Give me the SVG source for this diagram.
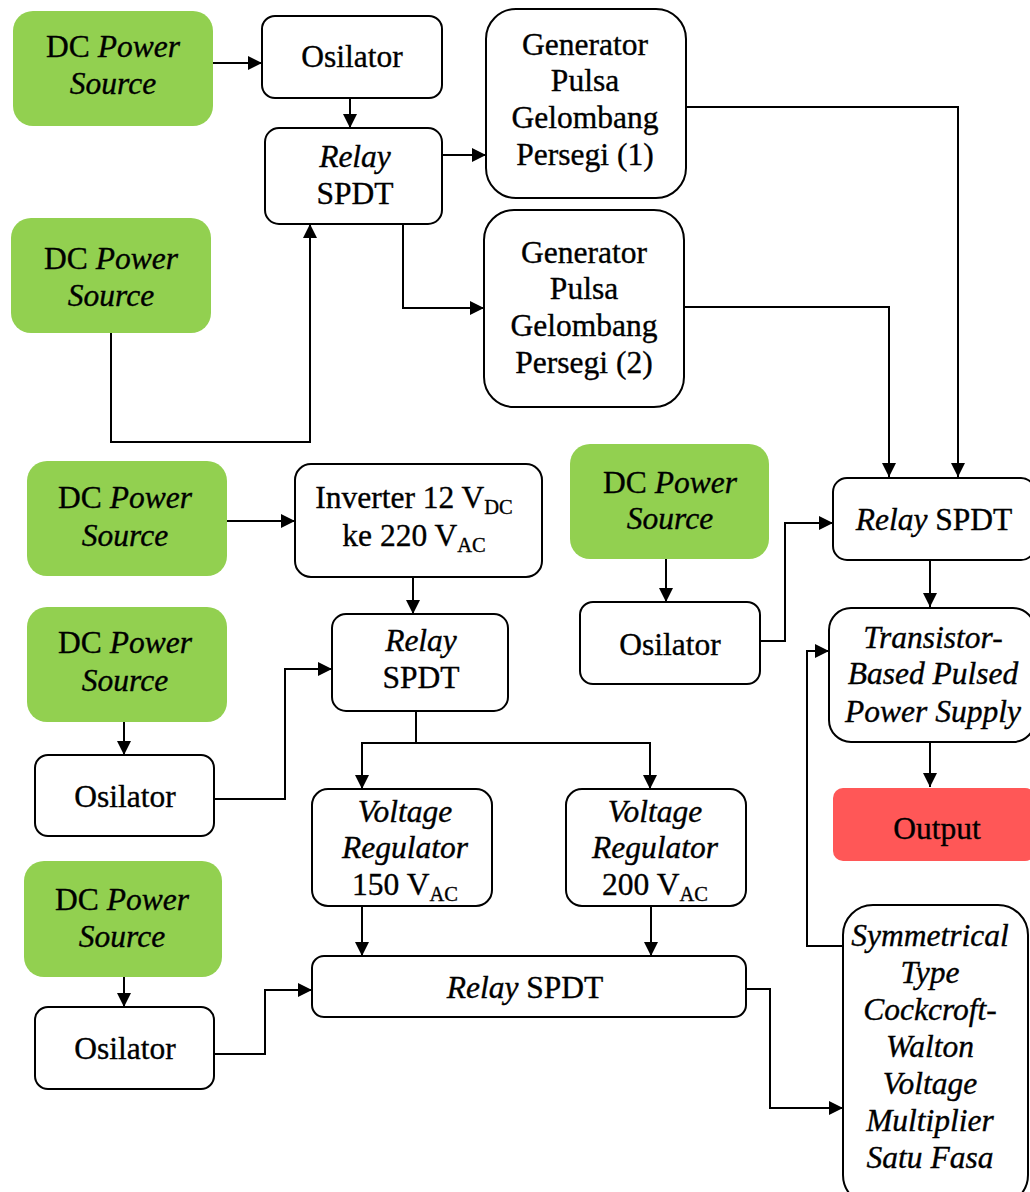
<svg xmlns="http://www.w3.org/2000/svg" width="1030" height="1192" viewBox="0 0 1030 1192" font-family="'Liberation Serif', serif">
<defs>
<style>
.box{fill:#fff;stroke:#000;stroke-width:2}
.src{fill:#92D050;stroke:none}
.out{fill:#FF5757;stroke:none}
.t{font-family:'Liberation Serif', serif;font-size:31.5px;fill:#000;stroke:#000;stroke-width:0.35;text-anchor:middle}
.i{font-style:italic}
.sub{font-size:20.5px}
.c{fill:none;stroke:#000;stroke-width:2}
</style>
<marker id="ah" markerWidth="14" markerHeight="14" refX="14" refY="7" orient="auto" markerUnits="userSpaceOnUse"><path d="M0,0 L14,7 L0,14 z" fill="#000"/></marker>
</defs>
<rect width="1030" height="1192" fill="#fff"/>
<g id="connectors">
<path class="c" marker-end="url(#ah)" d="M212,63 H262"/>
<path class="c" marker-end="url(#ah)" d="M350,98 V128"/>
<path class="c" marker-end="url(#ah)" d="M442,155 H486"/>
<path class="c" marker-end="url(#ah)" d="M111,333 V442 H310 V224"/>
<path class="c" marker-end="url(#ah)" d="M403,224 V308 H484"/>
<path class="c" marker-end="url(#ah)" d="M686,107 H958 V477"/>
<path class="c" marker-end="url(#ah)" d="M684,307 H889 V477"/>
<path class="c" marker-end="url(#ah)" d="M227,521 H295"/>
<path class="c" marker-end="url(#ah)" d="M413,577 V614"/>
<path class="c" marker-end="url(#ah)" d="M214,799 H285 V669 H332"/>
<path class="c" marker-end="url(#ah)" d="M124,722 V755"/>
<path class="c" marker-end="url(#ah)" d="M416,711 V743 H362 V789"/>
<path class="c" marker-end="url(#ah)" d="M416,743 H650 V789"/>
<path class="c" marker-end="url(#ah)" d="M666,559 V602"/>
<path class="c" marker-end="url(#ah)" d="M760,641 H785 V523 H833"/>
<path class="c" marker-end="url(#ah)" d="M930,560 V607"/>
<path class="c" marker-end="url(#ah)" d="M930,742 V787"/>
<path class="c" marker-end="url(#ah)" d="M843,946 H807 V651 H829"/>
<path class="c" marker-end="url(#ah)" d="M746,989 H770 V1108 H843"/>
<path class="c" marker-end="url(#ah)" d="M214,1054 H265 V990 H312"/>
<path class="c" marker-end="url(#ah)" d="M124,977 V1007"/>
<path class="c" marker-end="url(#ah)" d="M362,906 V956"/>
<path class="c" marker-end="url(#ah)" d="M651,906 V956"/>
</g>
<g id="dc1"><rect class="src" x="13" y="11" width="200" height="115" rx="20"/><text class="t" x="113" y="57">DC <tspan class="i">Power</tspan></text><text class="t i" x="113" y="94">Source</text></g>
<g id="osc1"><rect class="box" x="262" y="16" width="180" height="82" rx="13"/><text class="t" x="352" y="67">Osilator</text></g>
<g id="relay1"><rect class="box" x="265" y="128" width="177" height="96" rx="14"/><text class="t i" x="355" y="167">Relay</text><text class="t" x="355" y="204">SPDT</text></g>
<g id="gen1"><rect class="box" x="486" y="9" width="200" height="189" rx="30"/><text class="t" x="585" y="55">Generator</text><text class="t" x="585" y="91">Pulsa</text><text class="t" x="585" y="128">Gelombang</text><text class="t" x="585" y="165">Persegi (1)</text></g>
<g id="dc2"><rect class="src" x="11" y="218" width="200" height="115" rx="20"/><text class="t" x="111" y="269">DC <tspan class="i">Power</tspan></text><text class="t i" x="111" y="306">Source</text></g>
<g id="gen2"><rect class="box" x="484" y="210" width="200" height="197" rx="30"/><text class="t" x="584" y="263">Generator</text><text class="t" x="584" y="299">Pulsa</text><text class="t" x="584" y="336">Gelombang</text><text class="t" x="584" y="373">Persegi (2)</text></g>
<g id="dc3"><rect class="src" x="27" y="461" width="200" height="115" rx="20"/><text class="t" x="125" y="508">DC <tspan class="i">Power</tspan></text><text class="t i" x="125" y="546">Source</text></g>
<g id="inverter"><rect class="box" x="295" y="464" width="247" height="113" rx="16"/><text class="t" x="414" y="508">Inverter 12 V<tspan class="sub" dy="6">DC</tspan></text><text class="t" x="414" y="546">ke 220 V<tspan class="sub" dy="6">AC</tspan></text></g>
<g id="dc4"><rect class="src" x="570" y="444" width="199" height="115" rx="20"/><text class="t" x="670" y="493">DC <tspan class="i">Power</tspan></text><text class="t i" x="670" y="529">Source</text></g>
<g id="relayR"><rect class="box" x="833" y="478" width="202" height="82" rx="14"/><text class="t" x="934" y="530"><tspan class="i">Relay</tspan> SPDT</text></g>
<g id="dc5"><rect class="src" x="27" y="607" width="200" height="115" rx="20"/><text class="t" x="125" y="653">DC <tspan class="i">Power</tspan></text><text class="t i" x="125" y="691">Source</text></g>
<g id="relay2"><rect class="box" x="332" y="614" width="176" height="97" rx="14"/><text class="t i" x="421" y="651">Relay</text><text class="t" x="421" y="688">SPDT</text></g>
<g id="osc4"><rect class="box" x="580" y="602" width="180" height="82" rx="13"/><text class="t" x="670" y="655">Osilator</text></g>
<g id="transistor"><rect class="box" x="829" y="608" width="206" height="134" rx="22"/><text class="t i" x="933" y="648">Transistor-</text><text class="t i" x="933" y="684">Based Pulsed</text><text class="t i" x="933" y="722">Power Supply</text></g>
<g id="osc2"><rect class="box" x="35" y="755" width="179" height="81" rx="13"/><text class="t" x="125" y="807">Osilator</text></g>
<g id="vr150"><rect class="box" x="312" y="789" width="180" height="117" rx="16"/><text class="t i" x="405" y="822">Voltage</text><text class="t i" x="405" y="858">Regulator</text><text class="t" x="405" y="895">150 V<tspan class="sub" dy="6">AC</tspan></text></g>
<g id="vr200"><rect class="box" x="566" y="789" width="180" height="117" rx="16"/><text class="t i" x="655" y="822">Voltage</text><text class="t i" x="655" y="858">Regulator</text><text class="t" x="655" y="895">200 V<tspan class="sub" dy="6">AC</tspan></text></g>
<g id="output"><rect class="out" x="833" y="788" width="202" height="73" rx="10"/><text class="t" x="937" y="839">Output</text></g>
<g id="dc6"><rect class="src" x="24" y="861" width="198" height="116" rx="20"/><text class="t" x="122" y="910">DC <tspan class="i">Power</tspan></text><text class="t i" x="122" y="947">Source</text></g>
<g id="osc3"><rect class="box" x="35" y="1007" width="179" height="82" rx="13"/><text class="t" x="125" y="1059">Osilator</text></g>
<g id="relay3"><rect class="box" x="312" y="956" width="434" height="61" rx="12"/><text class="t" x="525" y="998"><tspan class="i">Relay</tspan> SPDT</text></g>
<g id="cw"><rect class="box" x="843" y="905" width="185" height="300" rx="30"/><text class="t i" x="930" y="946">Symmetrical</text><text class="t i" x="930" y="983">Type</text><text class="t i" x="930" y="1020">Cockcroft-</text><text class="t i" x="930" y="1057">Walton</text><text class="t i" x="930" y="1094">Voltage</text><text class="t i" x="930" y="1131">Multiplier</text><text class="t i" x="930" y="1168">Satu Fasa</text></g>
</svg>
